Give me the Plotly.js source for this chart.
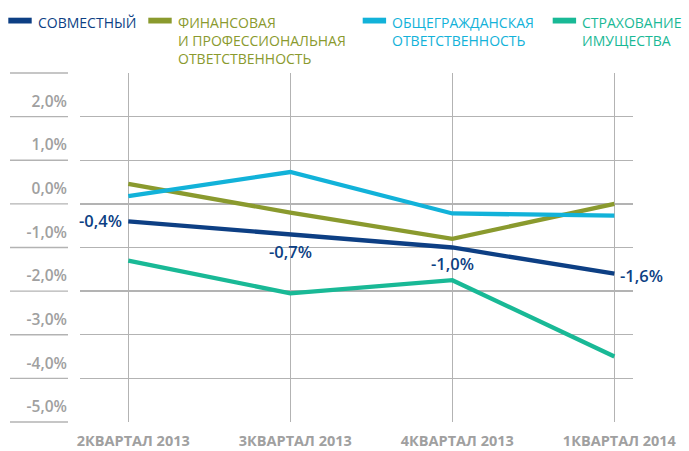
<!DOCTYPE html>
<html><head><meta charset="utf-8">
<script src="https://cdn.plot.ly/plotly-3.0.1.min.js"></script>
<style>html,body{margin:0;padding:0;background:#fff;}#chart{width:689px;height:451px;}</style>
</head><body><div id="chart"></div>
<script>
// ---- data ----
const quarters = ['2КВАРТАЛ 2013', '3КВАРТАЛ 2013', '4КВАРТАЛ 2013', '1КВАРТАЛ 2014'];
const seriesNames = [
  'СОВМЕСТНЫЙ',
  'ФИНАНСОВАЯ<br>И ПРОФЕССИОНАЛЬНАЯ<br>ОТВЕТСТВЕННОСТЬ',
  'ОБЩЕГРАЖДАНСКАЯ<br>ОТВЕТСТВЕННОСТЬ',
  'СТРАХОВАНИЕ<br>ИМУЩЕСТВА'
];
const joint = [-0.4, -0.7, -1.0, -1.6];
const financial = [0.46, -0.2, -0.8, 0.0];
const civil = [0.18, 0.73, -0.22, -0.27];
const property = [-1.3, -2.05, -1.75, -3.5];
const yTickValues = [2, 1, 0, -1, -2, -3, -4, -5];
const yTickLabels = ['2,0%', '1,0%', '0,0%', '-1,0%', '-2,0%', '-3,0%', '-4,0%', '-5,0%'];

// ---- styling / layout constants ----
const W = 689, H = 451, L = 80, R = 56, T = 73, B = 29;
const colors = ['#0d3f84', '#8a9a2e', '#12b2d9', '#19b996'];
const seriesValues = [joint, financial, civil, property];
const gridColor = '#b3b3b3';
const tickGray = '#a0a0a0';
const yMin = -5, yMax = 3;
const px2x = p => (p - L) / (W - L - R);
const px2y = p => (H - B - p) / (H - T - B);

const traces = seriesValues.map((vals, i) => ({
  type: 'scatter', mode: 'lines', x: quarters, y: vals,
  line: {color: colors[i], width: 4.3}, name: seriesNames[i],
  showlegend: false, hoverinfo: 'skip'
}));
// invisible trace to activate yaxis2 for offset labels
traces.push({type: 'scatter', mode: 'none', x: [quarters[0]], y: [0], yaxis: 'y2', showlegend: false, hoverinfo: 'skip'});

const fmt = v => v.toFixed(1).replace('.', ',') + '%';
const labelCfg = [
  {xanchor: 'right', yanchor: 'middle', xshift: -4, yshift: 1},
  {xanchor: 'center', yanchor: 'middle', xshift: 0, yshift: -17},
  {xanchor: 'center', yanchor: 'middle', xshift: 0, yshift: -16},
  {xanchor: 'left', yanchor: 'middle', xshift: 4, yshift: -1.5}
];
const annotations = joint.map((v, i) => Object.assign({
  x: quarters[i], y: v, xref: 'x', yref: 'y', text: fmt(v), showarrow: false,
  font: {family: 'Open Sans, sans-serif', size: 16.5, color: colors[0], weight: 600}
}, labelCfg[i]));

// custom legend
const swatchX = [8.3, 148.3, 362.7, 552.7];
const swatchW = 23.4, swatchTop = 17.7, swatchH = 5.8;
const textGap = 4;
const shapes = [];
seriesNames.forEach((n, i) => {
  shapes.push({type: 'rect', xref: 'paper', yref: 'paper',
    x0: px2x(swatchX[i]), x1: px2x(swatchX[i] + swatchW),
    y0: px2y(swatchTop + swatchH), y1: px2y(swatchTop),
    fillcolor: colors[i], line: {width: 0}});
  annotations.push({xref: 'paper', yref: 'paper', x: px2x(swatchX[i] + swatchW + textGap), y: px2y(10.5),
    xanchor: 'left', yanchor: 'top', align: 'left', showarrow: false, text: n,
    font: {family: 'Open Sans, sans-serif', size: 14, color: colors[i], weight: 500}});
});
// left gridline segments in label column
for (let v = yMin; v <= yMax; v++) {
  const yp = (v - yMin) / (yMax - yMin);
  shapes.push({type: 'line', xref: 'paper', yref: 'paper', x0: px2x(10), x1: px2x(68), y0: yp, y1: yp,
    line: {color: gridColor, width: 1.3}});
}

const layout = {
  width: W, height: H, margin: {l: L, r: R, t: T, b: B},
  paper_bgcolor: '#fff', plot_bgcolor: '#fff',
  xaxis: {type: 'category', range: [-0.298, 3.115], showgrid: true, gridcolor: gridColor, gridwidth: 1.3,
    zeroline: false, showline: false, ticks: 'outside', ticklen: 6, tickcolor: 'rgba(0,0,0,0)',
    tickfont: {family: 'Open Sans, sans-serif', size: 14.5, color: tickGray, weight: 700},
    ticklabelshift: 5, automargin: false, fixedrange: true},
  yaxis: {range: [yMin, yMax], dtick: 1, tick0: 0, showgrid: true, gridcolor: gridColor, gridwidth: 1.3,
    zeroline: false, showline: false, showticklabels: false, ticks: '', automargin: false, fixedrange: true},
  yaxis2: {range: [yMin, yMax], overlaying: 'y', side: 'left', showgrid: false, zeroline: false, showline: false,
    tickmode: 'array', tickvals: yTickValues.map(v => v + 0.35), ticktext: yTickLabels,
    ticks: 'outside', ticklen: 9, tickcolor: 'rgba(0,0,0,0)',
    tickfont: {family: 'Open Sans, sans-serif', size: 15.5, color: tickGray, weight: 600},
    automargin: false, fixedrange: true},
  annotations: annotations, shapes: shapes, showlegend: false
};
Plotly.newPlot('chart', traces, layout, {displayModeBar: false, staticPlot: true});
</script>
</body></html>
